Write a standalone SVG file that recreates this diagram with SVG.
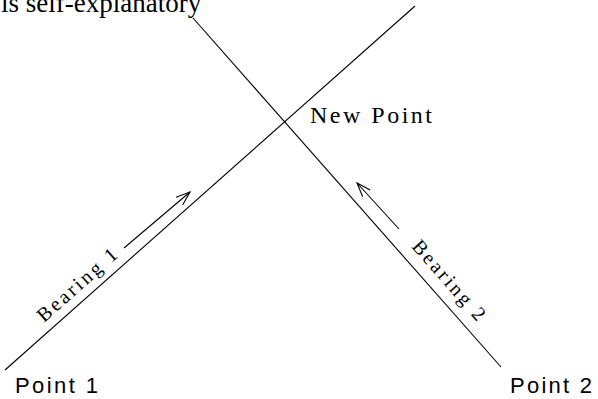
<svg xmlns="http://www.w3.org/2000/svg" width="598" height="399" viewBox="0 0 598 399">
<style>
.ln{stroke:#000;stroke-width:1.1;fill:none}
.sans{font-family:"Liberation Sans",Arial,sans-serif;font-size:22px;fill:#000}
.serif{font-family:"Liberation Serif","Times New Roman",serif;fill:#000}
</style>
<defs>
<marker id="ah" markerUnits="userSpaceOnUse" markerWidth="20" markerHeight="14" refX="0" refY="0" viewBox="-16 -7 18 14" orient="auto" overflow="visible">
<path d="M-14,-5.1 L0,0 L-14,5.1" fill="none" stroke="#000" stroke-width="1.1"/>
</marker>
</defs>
<rect width="598" height="399" fill="#fff"/>
<text class="serif" x="1" y="12" font-size="27">is self-explanatory</text>
<g id="connectors">
<line class="ln" x1="5" y1="370" x2="415" y2="6"/>
<line class="ln" x1="193" y1="18" x2="501" y2="367"/>
<line class="ln" x1="124" y1="248" x2="190" y2="192" marker-end="url(#ah)"/>
<line class="ln" x1="399" y1="229" x2="357" y2="183" marker-end="url(#ah)"/>
</g>
<g id="point1"><text class="sans" x="15" y="393" textLength="83" lengthAdjust="spacing">Point 1</text></g>
<g id="point2"><text class="sans" x="510" y="393" textLength="82" lengthAdjust="spacing">Point 2</text></g>
<g id="newpoint"><text class="serif" x="310" y="123" font-size="24" textLength="122" lengthAdjust="spacing">New Point</text></g>
<g id="bearing1"><text class="serif" font-size="20" transform="translate(44,323) rotate(-41.6)" textLength="100" lengthAdjust="spacing">Bearing 1</text></g>
<g id="bearing2"><text class="serif" font-size="20" transform="translate(411,247) rotate(48.6)" textLength="100" lengthAdjust="spacing">Bearing 2</text></g>
</svg>
